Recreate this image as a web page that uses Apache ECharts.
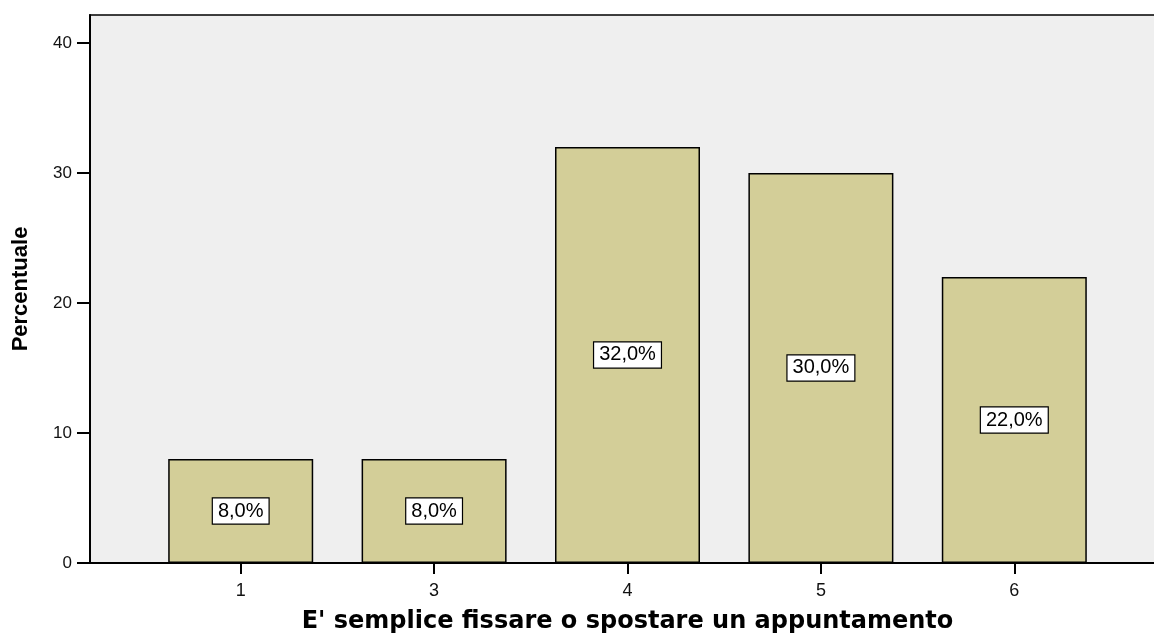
<!DOCTYPE html>
<html>
<head>
<meta charset="UTF-8">
<title>E' semplice fissare o spostare un appuntamento</title>
<script src="https://cdn.jsdelivr.net/npm/echarts@6/dist/echarts.min.js"></script>
<style>
    html, body { margin: 0; padding: 0; background: #fff; }
    #main { width: 1154px; height: 635px; }
</style>
</head>
<body>
<div id="main"></div>
<script>
// dati
var categorie = ['1', '3', '4', '5', '6'];
var percentuali = [8, 8, 32, 30, 22];
var tickY = [0, 10, 20, 30, 40];

var chart = echarts.init(document.getElementById('main'));

var font = 'Liberation Sans, Arial, sans-serif';

var option = {
    animation: false,
    grid: [
        // griglia delle barre
        { left: 144, width: 967, top: 15, bottom: 72, outerBoundsMode: 'none', containLabel: false },
        // sfondo grigio e assi visibili
        { left: 90, right: -10, top: 15, bottom: 72, show: true, outerBoundsMode: 'none', containLabel: false,
          backgroundColor: '#efefef', borderColor: '#000', borderWidth: 1.5, z: 0 }
    ],
    xAxis: [
        {
            type: 'category', gridIndex: 0, data: categorie,
            axisLine: { show: false },
            axisTick: { show: true, alignWithLabel: true, length: 11, lineStyle: { color: '#000', width: 2 } },
            axisLabel: { color: '#111', fontSize: 18, fontFamily: font, margin: 19 },
            name: "E' semplice fissare o spostare un appuntamento",
            nameLocation: 'middle', nameGap: 47,
            nameTextStyle: { fontSize: 24, fontWeight: 'bold', color: '#000', fontFamily: 'DejaVu Sans, sans-serif' }
        },
        {
            type: 'value', gridIndex: 1, min: 0, max: 1,
            axisLine: { show: true, lineStyle: { color: '#000', width: 2 } },
            axisTick: { show: false }, axisLabel: { show: false }, splitLine: { show: false }
        }
    ],
    yAxis: [
        {
            type: 'value', gridIndex: 0, min: 0, max: 42.15,
            show: false, splitLine: { show: false }
        },
        {
            type: 'value', gridIndex: 1, min: 0, max: 42.15,
            axisLine: { show: true, lineStyle: { color: '#000', width: 2 } },
            axisTick: { show: true, length: 13, customValues: tickY, lineStyle: { color: '#000', width: 2 } },
            axisLabel: { customValues: tickY, color: '#111', fontSize: 17, fontFamily: font, margin: 18 },
            splitLine: { show: false },
            name: 'Percentuale', nameLocation: 'middle', nameGap: 58, nameRotate: 90,
            nameTextStyle: { fontSize: 22, fontWeight: 'bold', color: '#000', fontFamily: font }
        }
    ],
    series: [
        {
            type: 'bar', xAxisIndex: 0, yAxisIndex: 0,
            data: percentuali, barWidth: 145, z: 3,
            itemStyle: { color: '#d3ce98', borderColor: '#000', borderWidth: 1.5 },
            label: {
                show: true, position: 'inside',
                formatter: function (p) { return p.value.toFixed(1).replace('.', ',') + '%'; },
                color: '#000', fontSize: 20, fontFamily: font, lineHeight: 20,
                backgroundColor: '#fff', borderColor: '#000', borderWidth: 1.2,
                padding: [3, 5, 2, 5]
            }
        }
    ]
};
chart.setOption(option);
</script>
</body>
</html>
